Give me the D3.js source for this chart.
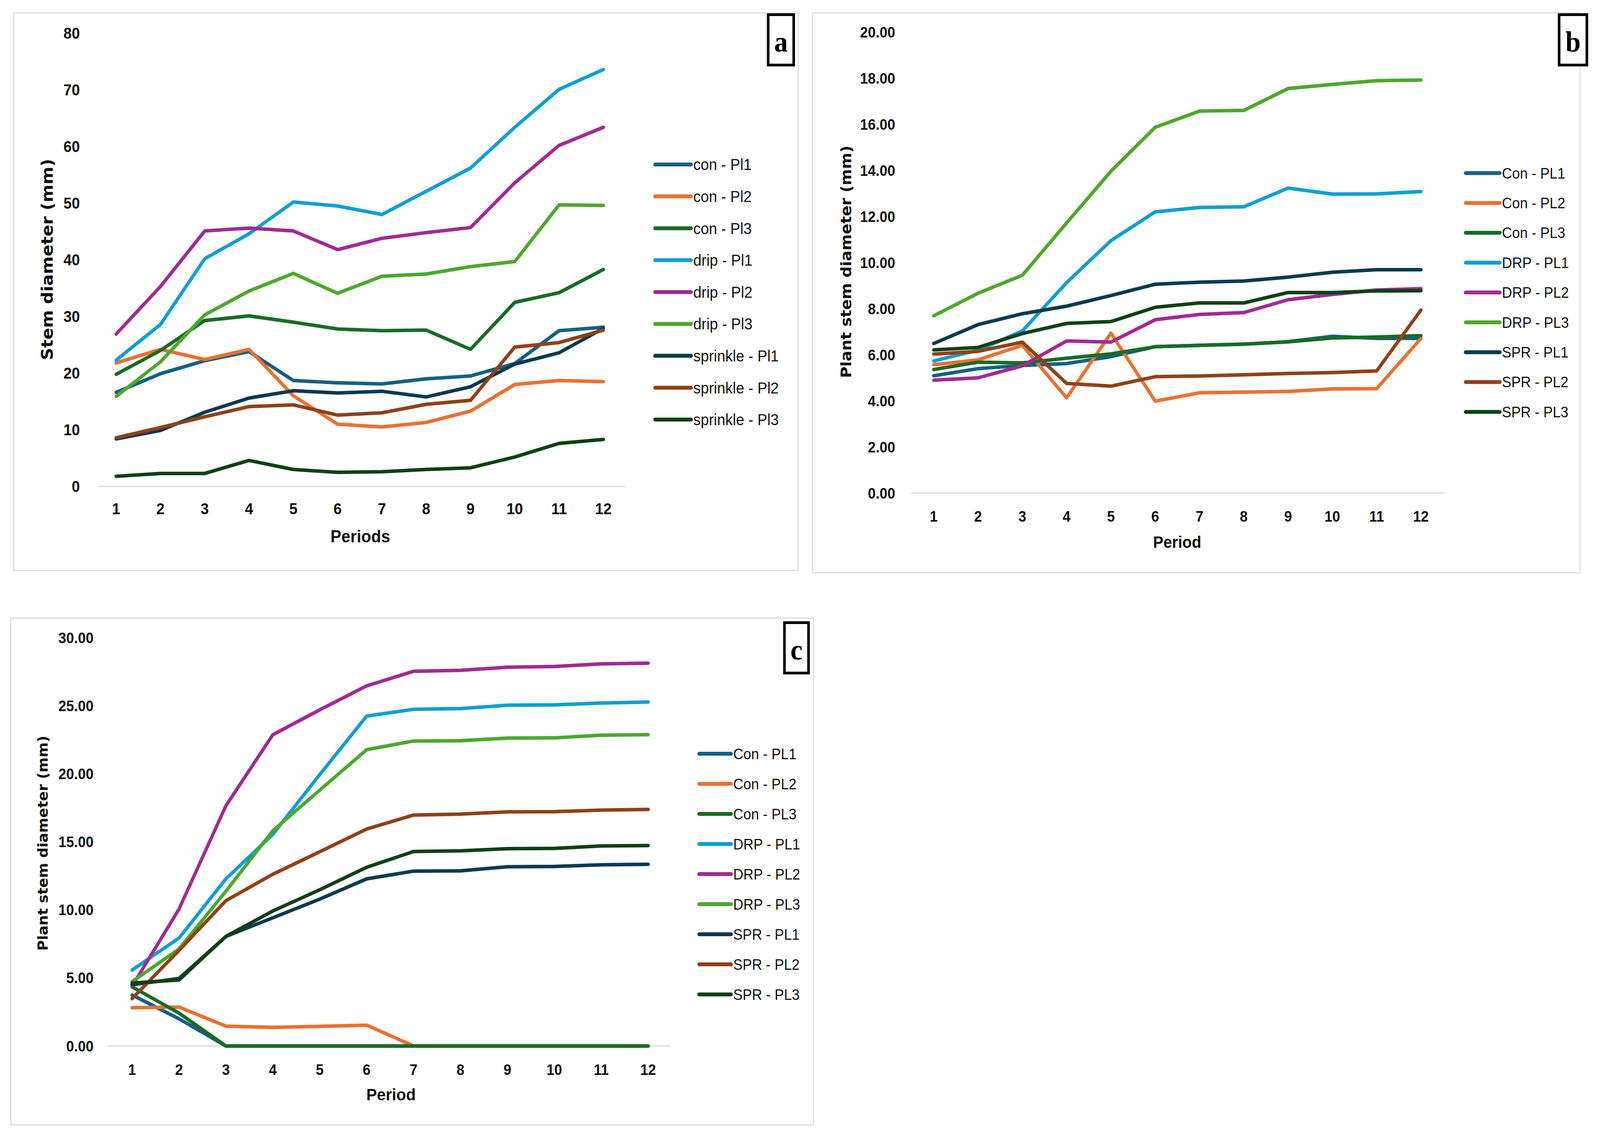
<!DOCTYPE html>
<html>
<head>
<meta charset="utf-8">
<script src="https://cdn.jsdelivr.net/npm/d3@7"></script>
<style>
  html, body { margin: 0; padding: 0; background: #fff; overflow: hidden; }
  svg { display: block; }
</style>
</head>
<body>
<div id="chart"></div>
<script>
// Stem diameter per period for three irrigation treatments (panels a, b, c)

const periods = [1, 2, 3, 4, 5, 6, 7, 8, 9, 10, 11, 12];

// panel a
const namesA = ["con - Pl1", "con - Pl2", "con - Pl3", "drip - Pl1", "drip - Pl2", "drip - Pl3",
    "sprinkle - Pl1", "sprinkle - Pl2", "sprinkle - Pl3"];
const aConPl1 = [16.6, 19.9, 22.2, 23.8, 18.7, 18.3, 18.1, 19.0, 19.5, 21.7, 27.5, 28.1];
const aConPl2 = [21.8, 24.2, 22.4, 24.2, 16.0, 11.0, 10.5, 11.3, 13.3, 18.0, 18.7, 18.5];
const aConPl3 = [19.8, 24.0, 29.3, 30.1, 29.0, 27.8, 27.5, 27.6, 24.2, 32.5, 34.2, 38.3];
const aDripPl1 = [22.3, 28.6, 40.2, 44.6, 50.2, 49.5, 48.0, 52.1, 56.2, 63.4, 70.1, 73.6];
const aDripPl2 = [26.9, 35.3, 45.1, 45.6, 45.1, 41.8, 43.8, 44.8, 45.7, 53.6, 60.2, 63.4];
const aDripPl3 = [15.9, 22.0, 30.3, 34.5, 37.6, 34.1, 37.1, 37.5, 38.8, 39.7, 49.7, 49.6];
const aSprPl1 = [8.4, 9.9, 13.1, 15.6, 16.9, 16.5, 16.8, 15.8, 17.6, 21.6, 23.6, 27.9];
const aSprPl2 = [8.6, 10.4, 12.3, 14.1, 14.4, 12.6, 13.0, 14.5, 15.2, 24.6, 25.4, 27.6];
const aSprPl3 = [1.8, 2.3, 2.3, 4.6, 3.0, 2.5, 2.6, 3.0, 3.3, 5.2, 7.6, 8.3];
const ticksA = [0, 10, 20, 30, 40, 50, 60, 70, 80];

// panel b
const namesBC = ["Con - PL1", "Con - PL2", "Con - PL3", "DRP - PL1", "DRP - PL2", "DRP - PL3",
    "SPR - PL1", "SPR - PL2", "SPR - PL3"];
const bConPl1 = [5.09, 5.40, 5.54, 5.62, 5.92, 6.35, 6.41, 6.46, 6.57, 6.80, 6.71, 6.71];
const bConPl2 = [5.57, 5.78, 6.41, 4.13, 6.94, 3.99, 4.35, 4.38, 4.41, 4.52, 4.53, 6.71];
const bConPl3 = [5.36, 5.68, 5.65, 5.85, 6.04, 6.35, 6.41, 6.46, 6.56, 6.73, 6.77, 6.83];
const bDrpPl1 = [5.73, 6.20, 7.03, 9.13, 10.95, 12.20, 12.39, 12.42, 13.23, 12.97, 12.98, 13.08];
const bDrpPl2 = [4.90, 5.00, 5.52, 6.60, 6.55, 7.52, 7.75, 7.83, 8.39, 8.62, 8.81, 8.87];
const bDrpPl3 = [7.69, 8.67, 9.45, 11.72, 13.96, 15.87, 16.57, 16.60, 17.55, 17.73, 17.89, 17.92];
const bSprPl1 = [6.49, 7.31, 7.78, 8.11, 8.57, 9.06, 9.15, 9.20, 9.37, 9.58, 9.69, 9.69];
const bSprPl2 = [6.03, 6.15, 6.55, 4.76, 4.64, 5.05, 5.08, 5.13, 5.19, 5.23, 5.30, 7.94];
const bSprPl3 = [6.21, 6.32, 6.92, 7.36, 7.44, 8.06, 8.25, 8.25, 8.70, 8.70, 8.77, 8.78];
const ticksB = [0, 2, 4, 6, 8, 10, 12, 14, 16, 18, 20];

// panel c
const cConPl1 = [3.75, 2.00, 0, 0, 0, 0, 0, 0, 0, 0, 0, 0];
const cConPl2 = [2.81, 2.86, 1.46, 1.37, 1.44, 1.53, 0, 0, 0, 0, 0, 0];
const cConPl3 = [4.35, 2.42, 0, 0, 0, 0, 0, 0, 0, 0, 0, 0];
const cDrpPl1 = [5.58, 7.93, 12.28, 15.55, 19.94, 24.24, 24.74, 24.79, 25.04, 25.06, 25.20, 25.27];
const cDrpPl2 = [4.39, 10.06, 17.65, 22.87, 24.70, 26.46, 27.53, 27.60, 27.83, 27.88, 28.08, 28.13];
const cDrpPl3 = [4.73, 7.13, 11.37, 15.82, 18.80, 21.77, 22.41, 22.43, 22.62, 22.64, 22.84, 22.87];
const cSprPl1 = [4.50, 4.96, 8.05, 9.42, 10.79, 12.28, 12.85, 12.87, 13.17, 13.19, 13.31, 13.35];
const cSprPl2 = [3.48, 7.02, 10.68, 12.62, 14.27, 15.94, 16.97, 17.04, 17.20, 17.22, 17.33, 17.38];
const cSprPl3 = [4.62, 4.85, 8.05, 9.92, 11.48, 13.13, 14.29, 14.34, 14.50, 14.52, 14.70, 14.73];
const ticksC = [0, 5, 10, 15, 20, 25, 30];

const colors = ["#156082", "#E97132", "#196B24", "#0F9ED5", "#A02B93", "#4EA72E",
    "#0C3A4F", "#8E4219", "#0F4016"];

// drawing space is 4325 x 2915, stretched onto whatever viewport we get
const W = 4325, H = 2915;
const svg = d3.select("#chart").append("svg")
    .attr("viewBox", `0 0 ${W} ${H}`)
    .attr("preserveAspectRatio", "none")
    .style("width", window.innerWidth + "px")
    .style("height", window.innerHeight + "px");
svg.append("rect").attr("width", W).attr("height", H).attr("fill", "#fff");

const sans = "Liberation Sans, Arial, sans-serif";

function drawPanel(p) {
    const g = svg.append("g");

    // frame
    g.append("rect")
        .attr("x", p.frame[0]).attr("y", p.frame[1])
        .attr("width", p.frame[2] - p.frame[0]).attr("height", p.frame[3] - p.frame[1])
        .attr("fill", "none").attr("stroke", "#dcdcdc").attr("stroke-width", 3);

    const x = d3.scaleLinear().domain([1, 12]).range([p.x1, p.x12]);
    const y = d3.scaleLinear().domain([0, p.ymax]).range([p.y0, p.yTop]);

    // y tick labels
    g.selectAll(".ytick").data(p.ticks).enter().append("text")
        .attr("x", p.yLabelRight)
        .attr("y", d => y(d))
        .attr("dy", "0.36em")
        .attr("text-anchor", "end")
        .style("font-family", sans)
        .style("font-weight", "bold")
        .style("font-size", p.tickSize + "px")
        .attr("fill", "#111")
        .text(d => p.fmt(d));

    // baseline
    g.append("line")
        .attr("x1", p.axisL).attr("x2", p.axisR)
        .attr("y1", y(0)).attr("y2", y(0))
        .attr("stroke", "#d9d9d9").attr("stroke-width", 3);

    // x tick labels
    g.selectAll(".xtick").data(periods).enter().append("text")
        .attr("x", d => x(d))
        .attr("y", p.xLabelY)
        .attr("dy", "0.36em")
        .attr("text-anchor", "middle")
        .style("font-family", sans)
        .style("font-weight", "bold")
        .style("font-size", p.tickSize + "px")
        .attr("fill", "#111")
        .text(d => d);

    // axis titles
    g.append("text")
        .attr("x", p.xTitle[0]).attr("y", p.xTitle[1])
        .attr("dy", "0.36em")
        .attr("text-anchor", "middle")
        .style("font-family", sans)
        .style("font-weight", "bold")
        .style("font-size", p.xTitleSize + "px")
        .attr("fill", "#111")
        .text(p.xTitleText);

    g.append("text")
        .attr("transform", `translate(${p.yTitle[0]},${p.yTitle[1]}) rotate(-90)`)
        .attr("dy", "0.36em")
        .attr("text-anchor", "middle")
        .style("font-family", "DejaVu Sans, Verdana, sans-serif")
        .style("font-weight", "bold")
        .style("font-size", p.yTitleSize + "px")
        .attr("fill", "#111")
        .text(p.yTitleText);

    // series
    const line = d3.line()
        .x((d, i) => x(periods[i]))
        .y(d => y(d));

    g.selectAll(".series").data(p.series).enter().append("path")
        .attr("d", d => line(d))
        .attr("fill", "none")
        .attr("stroke", (d, i) => colors[i])
        .attr("stroke-width", p.lineWidth)
        .attr("stroke-linejoin", "round")
        .attr("stroke-linecap", "round");

    // legend
    const leg = g.selectAll(".leg").data(p.names).enter().append("g")
        .attr("transform", (d, i) => `translate(${p.legX},${p.legY + i * p.legStep})`);
    leg.append("line")
        .attr("x1", 0).attr("x2", p.legLen)
        .attr("stroke", (d, i) => colors[i])
        .attr("stroke-width", 10)
        .attr("stroke-linecap", "round");
    leg.append("text")
        .attr("x", p.legLen + 6)
        .attr("dy", "0.36em")
        .style("font-family", sans)
        .style("font-size", p.legSize + "px")
        .attr("fill", "#111")
        .text(d => d);

    // panel letter
    g.append("rect")
        .attr("x", p.box[0] + 3.5).attr("y", p.box[1] + 3.5)
        .attr("width", p.box[2] - p.box[0] - 7).attr("height", p.box[3] - p.box[1] - 7)
        .attr("fill", "#fff").attr("stroke", "#000").attr("stroke-width", 7);
    g.append("text")
        .attr("x", (p.box[0] + p.box[2]) / 2)
        .attr("y", (p.box[1] + p.box[3]) / 2 + 8)
        .attr("dy", "0.3em")
        .attr("text-anchor", "middle")
        .style("font-family", "Liberation Serif, Times New Roman, serif")
        .style("font-weight", "bold")
        .style("font-size", "74px")
        .text(p.letter);
}

drawPanel({
    letter: "a",
    frame: [37, 33, 2158, 1460],
    box: [2073, 34, 2149, 170],
    series: [aConPl1, aConPl2, aConPl3, aDripPl1, aDripPl2, aDripPl3, aSprPl1, aSprPl2, aSprPl3],
    names: namesA,
    ticks: ticksA, ymax: 80, fmt: d3.format("d"),
    x1: 314, x12: 1631, y0: 1245, yTop: 85,
    axisL: 266, axisR: 1690,
    yLabelRight: 216, xLabelY: 1302,
    tickSize: 40,
    xTitle: [974, 1372], xTitleText: "Periods", xTitleSize: 44,
    yTitle: [127, 664], yTitleText: "Stem diameter (mm)", yTitleSize: 44,
    lineWidth: 9,
    legX: 1771, legY: 421, legStep: 81.6, legLen: 97, legSize: 40
});

drawPanel({
    letter: "b",
    frame: [2196, 33, 4271, 1466],
    box: [4211, 34, 4293, 170],
    series: [bConPl1, bConPl2, bConPl3, bDrpPl1, bDrpPl2, bDrpPl3, bSprPl1, bSprPl2, bSprPl3],
    names: namesBC,
    ticks: ticksB, ymax: 20, fmt: d3.format(".2f"),
    x1: 2524, x12: 3841, y0: 1262, yTop: 82,
    axisL: 2463, axisR: 3902,
    yLabelRight: 2420, xLabelY: 1321,
    tickSize: 38,
    xTitle: [3182, 1387], xTitleText: "Period", xTitleSize: 42,
    yTitle: [2286, 670], yTitleText: "Plant stem diameter (mm)", yTitleSize: 40,
    lineWidth: 9,
    legX: 3962, legY: 443, legStep: 76.4, legLen: 92, legSize: 38
});

drawPanel({
    letter: "c",
    frame: [29, 1582, 2199, 2879],
    box: [2117, 1590, 2189, 1726],
    series: [cConPl1, cConPl2, cConPl3, cDrpPl1, cDrpPl2, cDrpPl3, cSprPl1, cSprPl2, cSprPl3],
    names: namesBC,
    ticks: ticksC, ymax: 30, fmt: d3.format(".2f"),
    x1: 357, x12: 1752, y0: 2677, yTop: 1632,
    axisL: 292, axisR: 1812,
    yLabelRight: 253, xLabelY: 2737,
    tickSize: 38,
    xTitle: [1057, 2801], xTitleText: "Period", xTitleSize: 43,
    yTitle: [116, 2158], yTitleText: "Plant stem diameter (mm)", yTitleSize: 37,
    lineWidth: 9,
    legX: 1890, legY: 1929, legStep: 77, legLen: 86, legSize: 38
});
</script>
</body>
</html>
